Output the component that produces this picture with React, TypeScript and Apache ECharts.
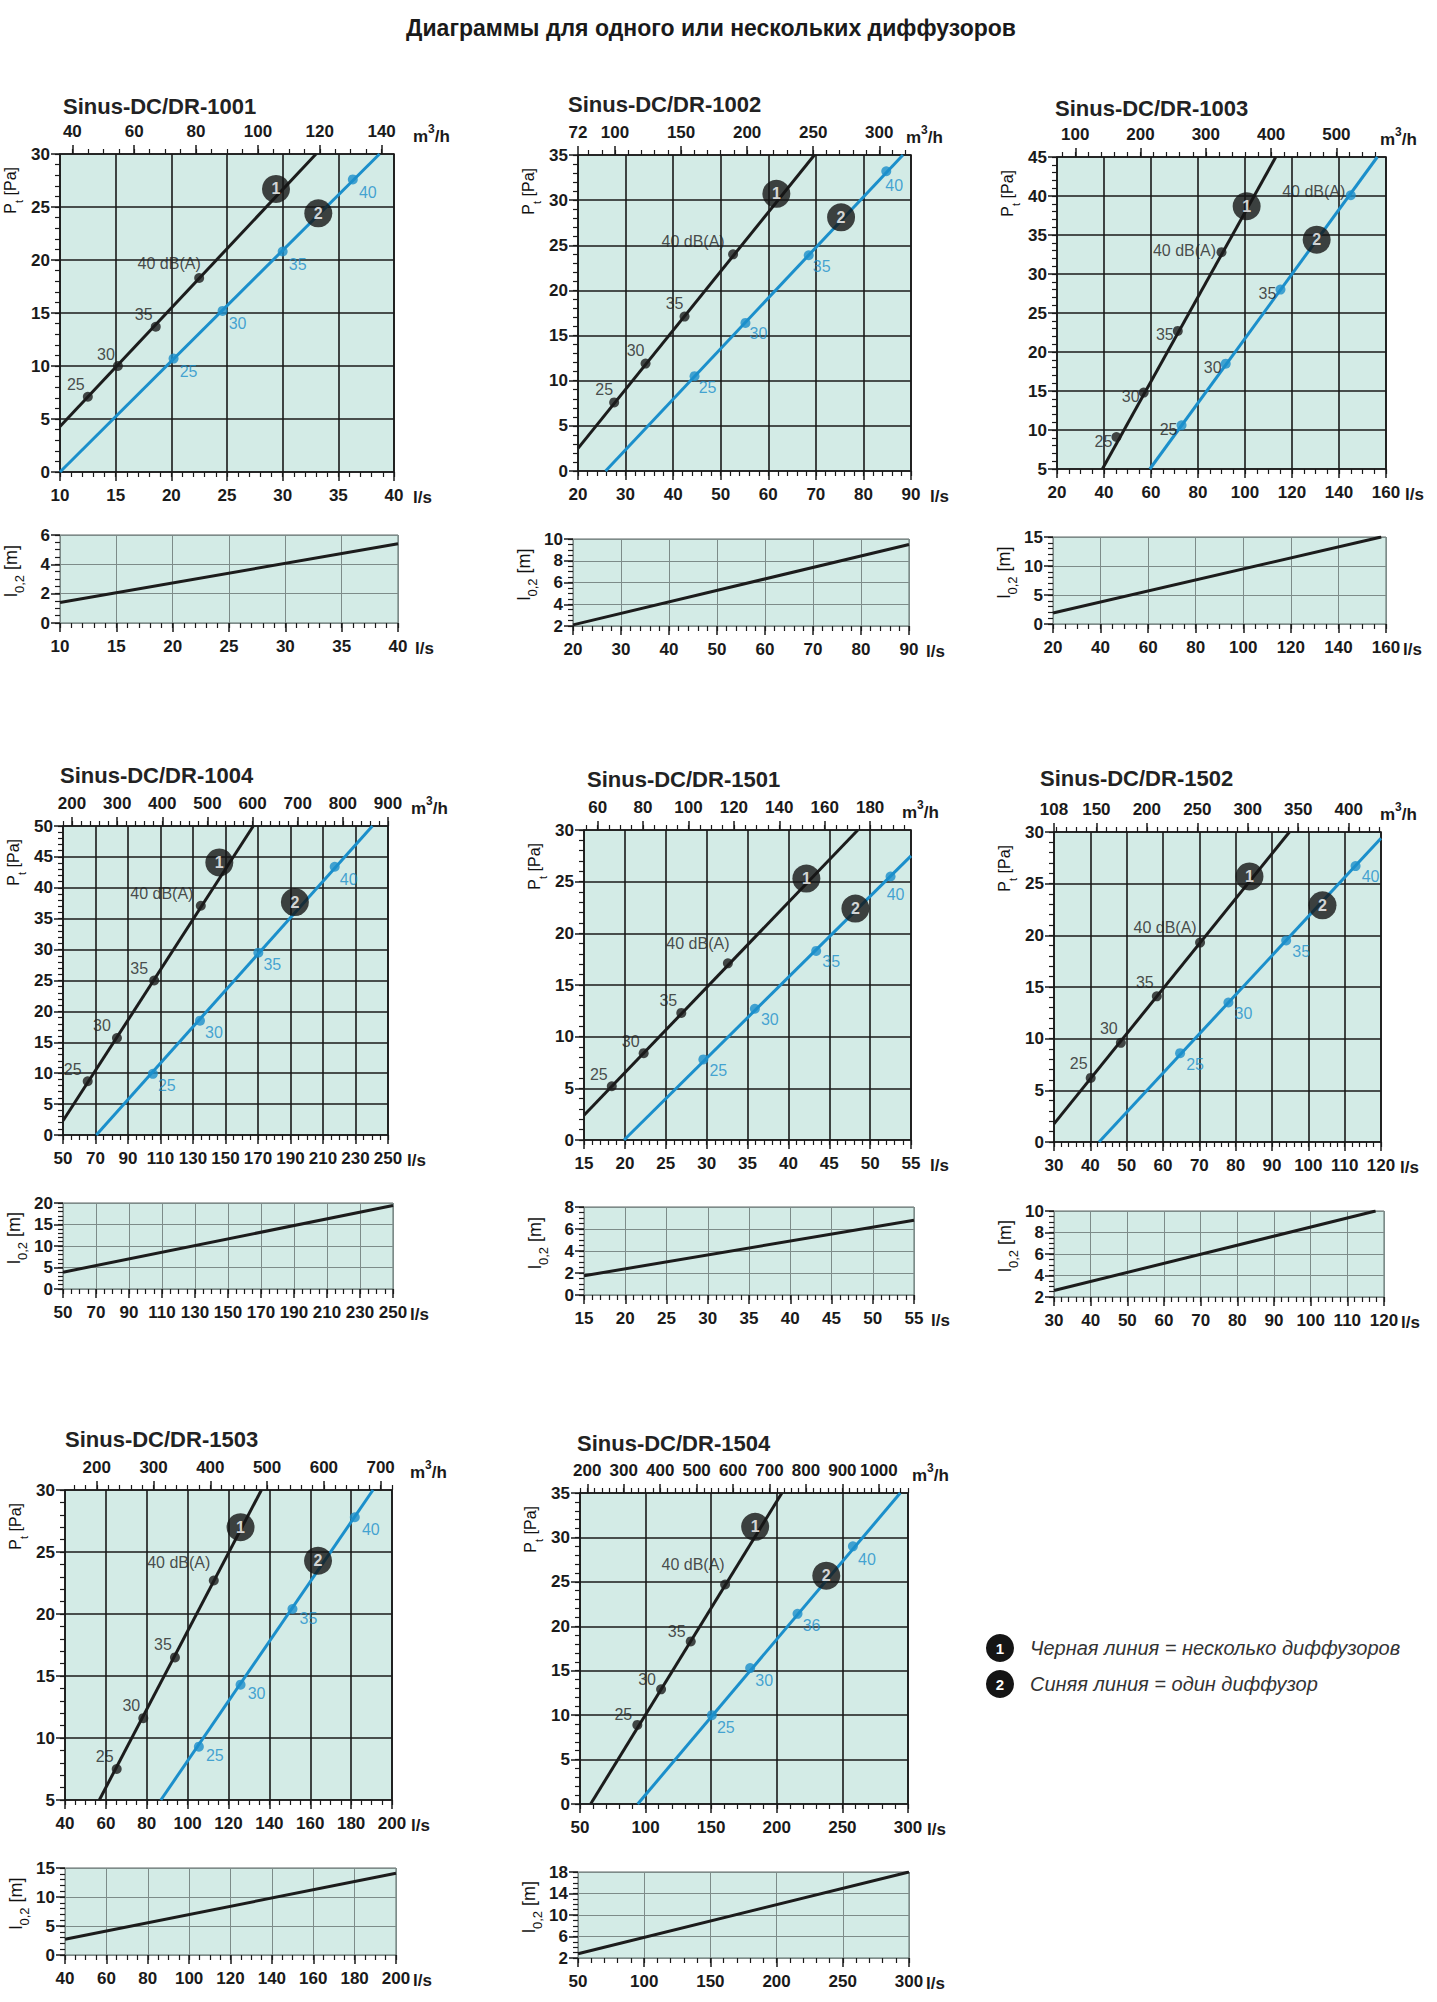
import React, { useEffect, useRef } from 'react';
import * as echarts from 'echarts';

const FONT = '"Liberation Sans", Arial, Helvetica, sans-serif';
const BG = '#d3ebe6';
const BLACK = '#1c1c1c';
const BLUE = '#1b8fcb';
const AXIS = '#1a1a1a';

// ---------- text / tick labels ----------
const pageTitle = 'Диаграммы для одного или нескольких диффузоров';
const legendText1 = 'Черная линия = несколько диффузоров';
const legendText2 = 'Синяя линия = один диффузор';
const labelsBlack = ['25', '30', '35', '40 dB(A)'];
const labelsBlue = ['25', '30', '35', '40'];
const labelsBlue1003 = ['25', '30', '35', '40 dB(A)'];
const labelsBlue1504 = ['25', '30', '36', '40'];

const top1001 = [40, 60, 80, 100, 120, 140];
const top1002 = [72, 100, 150, 200, 250, 300];
const top1003 = [100, 200, 300, 400, 500];
const top1004 = [200, 300, 400, 500, 600, 700, 800, 900];
const top1501 = [60, 80, 100, 120, 140, 160, 180];
const top1502 = [108, 150, 200, 250, 300, 350, 400];
const top1503 = [100, 200, 300, 400, 500, 600, 700];
const top1504 = [200, 300, 400, 500, 600, 700, 800, 900, 1000];

// axis ranges: [min, max, major step, minor step]
const x1001 = [10, 40, 5, 1], y1001 = [0, 30, 5, 1], s1001 = [0, 6, 2, 0.5];
const x1002 = [20, 90, 10, 2], y1002 = [0, 35, 5, 1], s1002 = [2, 10, 2, 0.5];
const x1003 = [20, 160, 20, 5], y1003 = [5, 45, 5, 1], s1003 = [0, 15, 5, 1];
const x1004 = [50, 250, 20, 5], y1004 = [0, 50, 5, 1], s1004 = [0, 20, 5, 1];
const x1501 = [15, 55, 5, 1], y1501 = [0, 30, 5, 1], s1501 = [0, 8, 2, 0.5];
const x1502 = [30, 120, 10, 2], y1502 = [0, 30, 5, 1], s1502 = [2, 10, 2, 0.5];
const x1503 = [40, 200, 20, 5], y1503 = [5, 30, 5, 1], s1503 = [0, 15, 5, 1];
const x1504 = [50, 300, 50, 10], y1504 = [0, 35, 5, 1], s1504 = [2, 18, 4, 1];

// ---------- data (l/s, Pa) / (l/s, m) ----------
const lineBlack1001 = [[10, 4.3], [33.0, 30]];
const lineBlue1001 = [[10, 0], [38.7, 30]];
const ptsBlack1001 = [[12.5, 7.1], [15.2, 10.0], [18.6, 13.7], [22.5, 18.3]];
const ptsBlue1001 = [[20.2, 10.7], [24.6, 15.2], [30.0, 20.8], [36.3, 27.6]];
const marks1001 = [[29.4, 26.7], [33.2, 24.4]];
const throw1001 = [[10, 1.4], [40, 5.4]];

const lineBlack1002 = [[20, 2.5], [69.7, 35]];
const lineBlue1002 = [[25.8, 0], [88.3, 35]];
const ptsBlack1002 = [[27.6, 7.6], [34.2, 11.9], [42.4, 17.1], [52.6, 24.0]];
const ptsBlue1002 = [[44.5, 10.5], [55.2, 16.4], [68.5, 23.9], [84.8, 33.2]];
const marks1002 = [[61.7, 30.7], [75.3, 28.1]];
const throw1002 = [[20, 2.1], [90, 9.5]];

const lineBlack1003 = [[39.3, 5], [113.1, 45]];
const lineBlue1003 = [[59.5, 5], [156.3, 45]];
const ptsBlack1003 = [[45.3, 9.1], [56.9, 14.8], [71.4, 22.7], [90.0, 32.8]];
const ptsBlue1003 = [[73.0, 10.6], [91.8, 18.5], [115.1, 28.0], [145.0, 40.1]];
const marks1003 = [[100.7, 38.7], [130.5, 34.4]];
const throw1003 = [[20, 1.9], [158, 15]];

const lineBlack1004 = [[50, 2.3], [167.1, 50]];
const lineBlue1004 = [[70.5, 0], [240.4, 50]];
const ptsBlack1004 = [[65.2, 8.7], [83.2, 15.7], [106.1, 25.0], [134.8, 37.1]];
const ptsBlue1004 = [[105.3, 9.9], [134.3, 18.5], [170.2, 29.5], [217.2, 43.4]];
const marks1004 = [[146.2, 44.1], [192.7, 37.7]];
const throw1004 = [[50, 3.9], [250, 19.4]];

const lineBlack1501 = [[15, 2.4], [48.5, 30]];
const lineBlue1501 = [[19.9, 0], [55, 27.5]];
const ptsBlack1501 = [[18.4, 5.2], [22.3, 8.4], [26.9, 12.3], [32.6, 17.1]];
const ptsBlue1501 = [[29.6, 7.8], [35.9, 12.7], [43.4, 18.3], [52.5, 25.5]];
const marks1501 = [[42.2, 25.3], [48.2, 22.4]];
const throw1501 = [[15, 1.75], [55, 6.8]];

const lineBlack1502 = [[30, 1.75], [94.8, 30]];
const lineBlue1502 = [[42.4, 0], [120, 29.4]];
const ptsBlack1502 = [[40.1, 6.2], [48.4, 9.6], [58.3, 14.1], [70.2, 19.3]];
const ptsBlue1502 = [[64.7, 8.6], [78.0, 13.5], [93.9, 19.5], [113.0, 26.7]];
const marks1502 = [[83.8, 25.7], [103.9, 22.9]];
const throw1502 = [[30, 2.6], [117.7, 10]];

const lineBlack1503 = [[56.8, 5], [136.1, 30]];
const lineBlue1503 = [[86.9, 5], [190.7, 30]];
const ptsBlack1503 = [[65.3, 7.5], [78.3, 11.6], [93.8, 16.5], [112.8, 22.7]];
const ptsBlue1503 = [[105.5, 9.3], [125.9, 14.3], [151.3, 20.4], [181.8, 27.8]];
const marks1503 = [[125.9, 27.0], [163.8, 24.3]];
const throw1503 = [[40, 2.7], [200, 14.1]];

const lineBlack1504 = [[58.1, 0], [203.9, 35]];
const lineBlue1504 = [[94.0, 0], [294.1, 35]];
const ptsBlack1504 = [[93.7, 8.9], [111.8, 12.9], [134.4, 18.3], [160.6, 24.7]];
const ptsBlue1504 = [[150.5, 10.0], [179.7, 15.3], [215.8, 21.4], [258.0, 29.0]];
const marks1504 = [[183.5, 31.2], [237.7, 25.7]];
const throw1504 = [[50, 2.8], [300, 18]];

// ---------- panels (data refs + layout) ----------
const panels: any[] = [
  { name: 'Sinus-DC/DR-1001', x: x1001, y: y1001, s: s1001, top: top1001, topMinor: 5,
    lb: lineBlack1001, lu: lineBlue1001, pb: ptsBlack1001, pu: ptsBlue1001, mk: marks1001, th: throw1001, lblU: labelsBlue,
    main: [60, 154, 394, 472], small: [60, 535, 398, 623], title: [63, 106], unitX: 413,
    offB: [-12, -12], offBig: [-30, -15], offU: [15, 13], offUBig: [15, 13], colU: BLUE },
  { name: 'Sinus-DC/DR-1002', x: x1002, y: y1002, s: s1002, top: top1002, topMinor: 10,
    lb: lineBlack1002, lu: lineBlue1002, pb: ptsBlack1002, pu: ptsBlue1002, mk: marks1002, th: throw1002, lblU: labelsBlue,
    main: [578, 155, 911, 471], small: [573, 539, 909, 626], title: [568, 104], unitX: 906,
    offB: [-10, -13], offBig: [-40, -13], offU: [13, 11], offUBig: [8, 14], colU: BLUE },
  { name: 'Sinus-DC/DR-1003', x: x1003, y: y1003, s: s1003, top: top1003, topMinor: 20,
    lb: lineBlack1003, lu: lineBlue1003, pb: ptsBlack1003, pu: ptsBlue1003, mk: marks1003, th: throw1003, lblU: labelsBlue1003,
    main: [1057, 157, 1386, 469], small: [1053, 537, 1386, 624], title: [1055, 108], unitX: 1380,
    offB: [-13, 4], offBig: [-37, -2], offU: [-13, 4], offUBig: [-37, -4], colU: BLACK },
  { name: 'Sinus-DC/DR-1004', x: x1004, y: y1004, s: s1004, top: top1004, topMinor: 20,
    lb: lineBlack1004, lu: lineBlue1004, pb: ptsBlack1004, pu: ptsBlue1004, mk: marks1004, th: throw1004, lblU: labelsBlue,
    main: [63, 826, 388, 1135], small: [63, 1203, 393, 1289], title: [60, 775], unitX: 411,
    offB: [-15, -12], offBig: [-39, -12], offU: [14, 12], offUBig: [14, 13], colU: BLUE },
  { name: 'Sinus-DC/DR-1501', x: x1501, y: y1501, s: s1501, top: top1501, topMinor: 5,
    lb: lineBlack1501, lu: lineBlue1501, pb: ptsBlack1501, pu: ptsBlue1501, mk: marks1501, th: throw1501, lblU: labelsBlue,
    main: [584, 830, 911, 1140], small: [584, 1207, 914, 1295], title: [587, 779], unitX: 902,
    offB: [-13, -12], offBig: [-30, -20], offU: [15, 11], offUBig: [5, 18], colU: BLUE },
  { name: 'Sinus-DC/DR-1502', x: x1502, y: y1502, s: s1502, top: top1502, topMinor: 10,
    lb: lineBlack1502, lu: lineBlue1502, pb: ptsBlack1502, pu: ptsBlue1502, mk: marks1502, th: throw1502, lblU: labelsBlue,
    main: [1054, 832, 1381, 1142], small: [1054, 1211, 1384, 1297], title: [1040, 778], unitX: 1380,
    offB: [-12, -14], offBig: [-35, -15], offU: [15, 11], offUBig: [15, 10], colU: BLUE },
  { name: 'Sinus-DC/DR-1503', x: x1503, y: y1503, s: s1503, top: top1503, topMinor: 20,
    lb: lineBlack1503, lu: lineBlue1503, pb: ptsBlack1503, pu: ptsBlue1503, mk: marks1503, th: throw1503, lblU: labelsBlue,
    main: [65, 1490, 392, 1800], small: [65, 1868, 396, 1955], title: [65, 1439], unitX: 410,
    offB: [-12, -13], offBig: [-35, -18], offU: [16, 9], offUBig: [16, 12], colU: BLUE },
  { name: 'Sinus-DC/DR-1504', x: x1504, y: y1504, s: s1504, top: top1504, topMinor: 20,
    lb: lineBlack1504, lu: lineBlue1504, pb: ptsBlack1504, pu: ptsBlue1504, mk: marks1504, th: throw1504, lblU: labelsBlue1504,
    main: [580, 1493, 908, 1804], small: [578, 1872, 909, 1958], title: [577, 1443], unitX: 912,
    offB: [-14, -10], offBig: [-32, -20], offU: [14, 12], offUBig: [14, 13], colU: BLUE },
];

function fromMin(a: number, b: number, s: number) {
  const out: number[] = [];
  for (let k = 0; a + k * s <= b + 1e-9; k++) out.push(+(a + k * s).toFixed(4));
  return out;
}
function multiples(a: number, b: number, s: number) {
  const out: number[] = [];
  for (let n = Math.ceil(a / s - 1e-9); n * s <= b + 1e-9; n++) out.push(+(n * s).toFixed(4));
  return out;
}

function makeAxis(gridIndex: number, position: string, min: number, max: number, values: number[], major: boolean, split: any) {
  const margin = position === 'left' ? 10 : position === 'top' ? 14 : 15;
  return {
    type: 'value', gridIndex, position, min, max,
    axisLine: { show: false, onZero: false },
    axisTick: { show: true, inside: false, length: major ? 9 : 5, customValues: values, lineStyle: { color: AXIS, width: major ? 1.5 : 1.2 } },
    axisLabel: major
      ? { show: true, customValues: values, margin, fontSize: 17, fontWeight: 'bold', color: '#1a1a1a', fontFamily: FONT, formatter: (v: number) => String(v) }
      : { show: false },
    splitLine: split ? { show: true, lineStyle: split } : { show: false },
    minorTick: { show: false },
    minorSplitLine: { show: false },
  };
}

function textEl(x: number, y: number, text: string, style: any = {}, extra: any = {}) {
  return {
    type: 'text', x, y, silent: true, z: 10, ...extra,
    style: { text, fontFamily: FONT, fontSize: 16, fill: '#111', textAlign: 'left', verticalAlign: 'middle', textVerticalAlign: 'middle', ...style },
  };
}

function buildOption() {
  const grid: any[] = [];
  const xAxis: any[] = [];
  const yAxis: any[] = [];
  const series: any[] = [];
  const graphic: any[] = [];

  const mainSplit = { color: AXIS, width: 1.6 };
  const smallSplit = { color: '#7d8b89', width: 1 };

  panels.forEach((p) => {
    const [ml, mt, mr, mb] = p.main;
    const [sl, st, sr, sb] = p.small;
    const [xmin, xmax, xmaj, xmnr] = p.x;
    const [ymin, ymax, ymaj, ymnr] = p.y;
    const [smin, smax, smaj, smnr] = p.s;

    // ----- main chart -----
    const gMain = grid.length;
    grid.push({ left: ml, top: mt, width: mr - ml, height: mb - mt, show: true, backgroundColor: BG, borderColor: AXIS, borderWidth: 1.6, containLabel: false, outerBoundsMode: 'none' });
    const xi = xAxis.length;
    xAxis.push(makeAxis(gMain, 'bottom', xmin, xmax, fromMin(xmin, xmax, xmaj), true, mainSplit));
    xAxis.push(makeAxis(gMain, 'bottom', xmin, xmax, fromMin(xmin, xmax, xmnr), false, null));
    xAxis.push(makeAxis(gMain, 'top', xmin * 3.6, xmax * 3.6, p.top, true, null));
    xAxis.push(makeAxis(gMain, 'top', xmin * 3.6, xmax * 3.6, multiples(xmin * 3.6, xmax * 3.6, p.topMinor), false, null));
    const yi = yAxis.length;
    yAxis.push(makeAxis(gMain, 'left', ymin, ymax, fromMin(ymin, ymax, ymaj), true, mainSplit));
    yAxis.push(makeAxis(gMain, 'left', ymin, ymax, fromMin(ymin, ymax, ymnr), false, null));

    series.push({ type: 'line', xAxisIndex: xi, yAxisIndex: yi, data: p.lb, symbol: 'none', silent: true, z: 3, lineStyle: { color: BLACK, width: 3 } });
    series.push({ type: 'line', xAxisIndex: xi, yAxisIndex: yi, data: p.lu, symbol: 'none', silent: true, z: 3, lineStyle: { color: BLUE, width: 3 } });
    series.push({
      type: 'scatter', xAxisIndex: xi, yAxisIndex: yi, symbolSize: 10, z: 4, silent: true,
      itemStyle: { color: BLACK },
      data: p.pb.map((v: number[], k: number) => ({ value: v, label: { offset: k === 3 ? p.offBig : p.offB } })),
      label: { show: true, position: 'inside', formatter: (q: any) => labelsBlack[q.dataIndex], fontSize: 16, color: '#222', fontFamily: FONT },
    });
    series.push({
      type: 'scatter', xAxisIndex: xi, yAxisIndex: yi, symbolSize: 10, z: 4, silent: true,
      itemStyle: { color: BLUE },
      data: p.pu.map((v: number[], k: number) => ({ value: v, label: { offset: k === 3 ? p.offUBig : p.offU } })),
      label: { show: true, position: 'inside', formatter: (q: any) => p.lblU[q.dataIndex], fontSize: 16, color: p.colU === BLACK ? '#222' : p.colU, fontFamily: FONT },
    });
    series.push({
      type: 'scatter', xAxisIndex: xi, yAxisIndex: yi, symbolSize: 28, z: 5, silent: true,
      itemStyle: { color: '#151515' },
      data: p.mk,
      label: { show: true, position: 'inside', formatter: (q: any) => String(q.dataIndex + 1), fontSize: 16, fontWeight: 'bold', color: '#fff', fontFamily: FONT },
    });

    // ----- small chart -----
    const gSmall = grid.length;
    grid.push({ left: sl, top: st, width: sr - sl, height: sb - st, show: true, backgroundColor: BG, borderColor: '#5d6867', borderWidth: 1, containLabel: false, outerBoundsMode: 'none' });
    const sxi = xAxis.length;
    xAxis.push(makeAxis(gSmall, 'bottom', xmin, xmax, fromMin(xmin, xmax, xmaj), true, smallSplit));
    xAxis.push(makeAxis(gSmall, 'bottom', xmin, xmax, fromMin(xmin, xmax, xmnr), false, null));
    const syi = yAxis.length;
    yAxis.push(makeAxis(gSmall, 'left', smin, smax, fromMin(smin, smax, smaj), true, smallSplit));
    yAxis.push(makeAxis(gSmall, 'left', smin, smax, fromMin(smin, smax, smnr), false, null));
    series.push({ type: 'line', xAxisIndex: sxi, yAxisIndex: syi, data: p.th, symbol: 'none', silent: true, z: 3, lineStyle: { color: BLACK, width: 3 } });

    // ----- texts -----
    graphic.push(textEl(p.title[0], p.title[1], p.name, { fontSize: 22, fontWeight: 'bold', fill: '#222' }));
    graphic.push(textEl(p.unitX, mt - 20, '{a|m}{s|3}{a|/h}', {
      rich: {
        a: { fontSize: 17, fontWeight: 'bold', fontFamily: FONT, fill: '#1a1a1a', lineHeight: 22, verticalAlign: 'bottom' },
        s: { fontSize: 12, fontWeight: 'bold', fontFamily: FONT, fill: '#1a1a1a', verticalAlign: 'top' },
      },
    }));
    graphic.push(textEl(mr + 19, mb + 25, 'l/s', { fontSize: 17, fontWeight: 'bold', fill: '#1a1a1a' }));
    graphic.push(textEl(sr + 17, sb + 25, 'l/s', { fontSize: 17, fontWeight: 'bold', fill: '#1a1a1a' }));
    graphic.push(textEl(ml - 47, mt + 13, '{a|P}{s|t}{a| [Pa]}', {
      textAlign: 'right',
      rich: {
        a: { fontSize: 16, fontFamily: FONT, fill: '#111', lineHeight: 22, verticalAlign: 'top' },
        s: { fontSize: 11, fontFamily: FONT, fill: '#111', verticalAlign: 'bottom' },
      },
    }, { rotation: Math.PI / 2 }));
    graphic.push(textEl(sl - 46, (st + sb) / 2 - 8, '{a|l}{s|0,2}{a| [m]}', {
      textAlign: 'center',
      rich: {
        a: { fontSize: 18, fontFamily: FONT, fill: '#111', lineHeight: 24, verticalAlign: 'top' },
        s: { fontSize: 13, fontFamily: FONT, fill: '#111', verticalAlign: 'bottom' },
      },
    }, { rotation: Math.PI / 2 }));
  });

  // page title
  graphic.push(textEl(711, 28, pageTitle, { fontSize: 23, fontWeight: 'bold', fill: '#1a1a1a', textAlign: 'center' }));
  // legend
  graphic.push({ type: 'circle', silent: true, z: 10, shape: { cx: 1000, cy: 1648, r: 14 }, style: { fill: '#151515' } });
  graphic.push({ type: 'circle', silent: true, z: 10, shape: { cx: 1000, cy: 1684, r: 14 }, style: { fill: '#151515' } });
  graphic.push(textEl(1000, 1648, '1', { fontSize: 15, fontWeight: 'bold', fill: '#fff', textAlign: 'center' }, { z: 11 }));
  graphic.push(textEl(1000, 1684, '2', { fontSize: 15, fontWeight: 'bold', fill: '#fff', textAlign: 'center' }, { z: 11 }));
  graphic.push(textEl(1030, 1648, legendText1, { fontSize: 20, fontStyle: 'italic', fill: '#333' }));
  graphic.push(textEl(1030, 1684, legendText2, { fontSize: 20, fontStyle: 'italic', fill: '#333' }));

  return {
    animation: false,
    backgroundColor: '#ffffff',
    textStyle: { fontFamily: FONT },
    tooltip: { show: false },
    grid, xAxis, yAxis, series, graphic,
  };
}

export default function App() {
  const ref = useRef<HTMLDivElement>(null);
  useEffect(() => {
    if (!ref.current) return;
    const chart = echarts.init(ref.current, undefined, { renderer: 'svg' });
    chart.setOption(buildOption() as any);
    return () => chart.dispose();
  }, []);
  return <div ref={ref} style={{ position: 'absolute', left: 0, top: 0, width: 1437, height: 2002, background: '#fff' }} />;
}
